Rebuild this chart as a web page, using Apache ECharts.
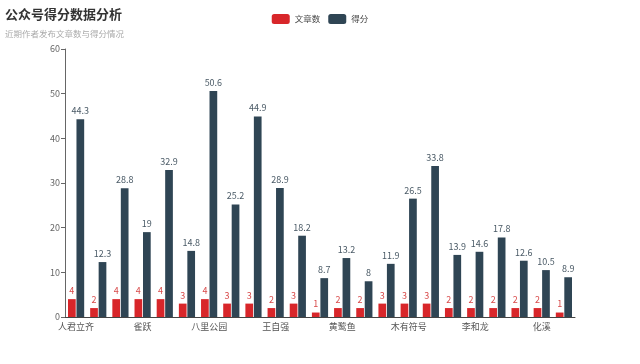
<!DOCTYPE html>
<html><head><meta charset="utf-8">
<script src="https://cdn.jsdelivr.net/npm/echarts@6/dist/echarts.min.js"></script>
<style>html,body{margin:0;padding:0;background:#fff}#c{width:640px;height:364px}</style>
</head><body><div id="c"></div>
<script>
const categories = ['人君立齐','小白','老张','雀跃','阿木','石头','八里公园','青山','晚风','王自强','小鱼','南溪','黄鹭鱼','林夕','北岛','木有符号','远山','秋水','李和龙','白云','星河','化溪','东篱'];
const articles = [4,2,4,4,4,3,4,3,3,2,3,1,2,2,3,3,3,2,2,2,2,2,1];
const scores = [44.3,12.3,28.8,19,32.9,14.8,50.6,25.2,44.9,28.9,18.2,8.7,13.2,8,11.9,26.5,33.8,13.9,14.6,17.8,12.6,10.5,8.9];
const chart = echarts.init(document.getElementById('c'));
const font = 'Noto Sans CJK SC, sans-serif';
chart.setOption({
  animation:false,
  textStyle:{fontFamily:font},
  title:{text:'公众号得分数据分析',subtext:'近期作者发布文章数与得分情况',left:0,top:3,
    textStyle:{fontSize:13,fontWeight:'bold',color:'#333',fontFamily:font},
    subtextStyle:{fontSize:8.5,color:'#aaa',fontFamily:font},itemGap:9},
  legend:{top:9,left:'center',itemWidth:18,itemHeight:10,itemGap:8,textStyle:{fontSize:8.5,color:'#444'},
    data:['文章数','得分']},
  grid:{left:65,right:65,top:49,bottom:47},
  xAxis:{type:'category',data:categories,
    axisLine:{lineStyle:{color:'#444'}},
    axisTick:{interval:2,length:4,lineStyle:{color:'#444'}},
    axisLabel:{interval:2,color:'#555',fontSize:9,margin:5}},
  yAxis:{type:'value',min:0,max:60,interval:10,splitLine:{show:false},
    axisLine:{show:true,lineStyle:{color:'#666'}},axisTick:{show:true,length:4},
    axisLabel:{color:'#666',fontSize:9,margin:5}},
  series:[
    {name:'文章数',type:'bar',data:articles,itemStyle:{color:'#d8262a'},
      label:{show:true,position:'top',color:'#d84a4a',fontSize:9,distance:4}},
    {name:'得分',type:'bar',data:scores,itemStyle:{color:'#2f4554'},
      label:{show:true,position:'top',color:'#4a5a66',fontSize:9,distance:4}}
  ]
});
</script></body></html>
